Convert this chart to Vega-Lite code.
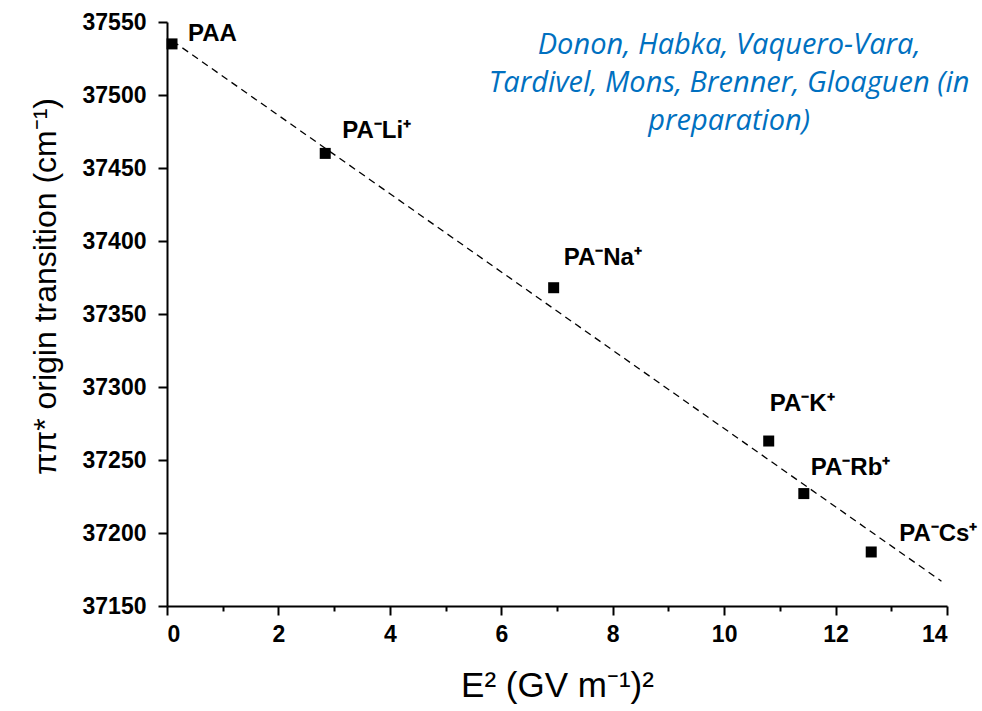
{
  "$schema": "https://vega.github.io/schema/vega-lite/v6.json",
  "width": 780,
  "height": 584,
  "autosize": "none",
  "padding": {"left": 167, "top": 22, "right": 35, "bottom": 105},
  "background": "white",
  "config": {
    "view": {"stroke": null},
    "font": "Liberation Sans",
    "axis": {
      "domainColor": "black", "domainWidth": 2, "tickColor": "black", "tickWidth": 2, "ticks": true,
      "labelFont": "Liberation Sans", "labelFontWeight": "bold", "labelFontSize": 23, "labelColor": "black",
      "titleFont": "Liberation Sans", "titleFontWeight": "normal", "titleColor": "black", "grid": false
    }
  },
  "datasets": {
    "pts": [
      {"E2": 0.09, "nu": 37535, "label": "PAA"},
      {"E2": 2.84, "nu": 37460, "label": "PA⁻Li⁺"},
      {"E2": 6.94, "nu": 37368, "label": "PA⁻Na⁺"},
      {"E2": 10.80, "nu": 37263, "label": "PA⁻K⁺"},
      {"E2": 11.43, "nu": 37227, "label": "PA⁻Rb⁺"},
      {"E2": 12.64, "nu": 37187, "label": "PA⁻Cs⁺"}
    ],
    "fit": [
      {"E2": 0.1, "nu": 37537},
      {"E2": 13.9, "nu": 37167}
    ]
  },
  "layer": [
    {
      "data": {"name": "fit"},
      "mark": {"type": "line", "color": "black", "strokeWidth": 1.3, "strokeDash": [7, 5]},
      "encoding": {
        "x": {"field": "E2", "type": "quantitative", "scale": {"domain": [0, 14], "nice": false},
          "axis": {"orient": "bottom", "values": [0, 1, 2, 3, 4, 5, 6, 7, 8, 9, 10, 11, 12, 13, 14],
            "labelExpr": "datum.value % 2 === 1 ? '' : datum.value",
            "tickSize": {"condition": {"test": "datum.value % 2 === 1", "value": 5}, "value": 9},
            "labelPadding": 8, "title": "E² (GV m⁻¹)²", "titleFontSize": 35, "titlePadding": 22}},
        "y": {"field": "nu", "type": "quantitative", "scale": {"domain": [37150, 37550], "nice": false, "zero": false},
          "axis": {"orient": "left", "values": [37150, 37175, 37200, 37225, 37250, 37275, 37300, 37325, 37350, 37375, 37400, 37425, 37450, 37475, 37500, 37525, 37550],
            "labelExpr": "datum.value % 50 !== 0 ? '' : datum.value",
            "tickSize": {"condition": {"test": "datum.value % 50 !== 0", "value": 5}, "value": 9},
            "labelPadding": 12, "title": "ππ* origin transition (cm⁻¹)", "titleFontSize": 32, "titlePadding": 20, "titleY": 264}}
      }
    },
    {
      "data": {"name": "pts"},
      "mark": {"type": "square", "color": "black", "filled": true, "opacity": 1, "size": 121},
      "encoding": {
        "x": {"field": "E2", "type": "quantitative"},
        "y": {"field": "nu", "type": "quantitative"}
      }
    },
    {
      "data": {"name": "pts"},
      "transform": [{"filter": "datum.label === 'PAA'"}],
      "mark": {"type": "text", "align": "left", "baseline": "middle", "dx": 16, "dy": -10, "fontWeight": "bold", "fontSize": 24, "color": "black"},
      "encoding": {"x": {"field": "E2", "type": "quantitative"}, "y": {"field": "nu", "type": "quantitative"}, "text": {"field": "label"}}
    },
    {
      "data": {"name": "pts"},
      "transform": [{"filter": "datum.label === 'PA⁻Li⁺'"}],
      "mark": {"type": "text", "align": "left", "baseline": "middle", "dx": 17, "dy": -22, "fontWeight": "bold", "fontSize": 24, "color": "black"},
      "encoding": {"x": {"field": "E2", "type": "quantitative"}, "y": {"field": "nu", "type": "quantitative"}, "text": {"field": "label"}}
    },
    {
      "data": {"name": "pts"},
      "transform": [{"filter": "datum.label === 'PA⁻Na⁺'"}],
      "mark": {"type": "text", "align": "left", "baseline": "middle", "dx": 10, "dy": -30, "fontWeight": "bold", "fontSize": 24, "color": "black"},
      "encoding": {"x": {"field": "E2", "type": "quantitative"}, "y": {"field": "nu", "type": "quantitative"}, "text": {"field": "label"}}
    },
    {
      "data": {"name": "pts"},
      "transform": [{"filter": "datum.label === 'PA⁻K⁺'"}],
      "mark": {"type": "text", "align": "left", "baseline": "middle", "dx": 1, "dy": -37, "fontWeight": "bold", "fontSize": 24, "color": "black"},
      "encoding": {"x": {"field": "E2", "type": "quantitative"}, "y": {"field": "nu", "type": "quantitative"}, "text": {"field": "label"}}
    },
    {
      "data": {"name": "pts"},
      "transform": [{"filter": "datum.label === 'PA⁻Rb⁺'"}],
      "mark": {"type": "text", "align": "left", "baseline": "middle", "dx": 7, "dy": -26, "fontWeight": "bold", "fontSize": 24, "color": "black"},
      "encoding": {"x": {"field": "E2", "type": "quantitative"}, "y": {"field": "nu", "type": "quantitative"}, "text": {"field": "label"}}
    },
    {
      "data": {"name": "pts"},
      "transform": [{"filter": "datum.label === 'PA⁻Cs⁺'"}],
      "mark": {"type": "text", "align": "left", "baseline": "middle", "dx": 28, "dy": -18, "fontWeight": "bold", "fontSize": 24, "color": "black"},
      "encoding": {"x": {"field": "E2", "type": "quantitative"}, "y": {"field": "nu", "type": "quantitative"}, "text": {"field": "label"}}
    },
    {
      "data": {"values": [{"note": ["Donon, Habka, Vaquero-Vara,", "Tardivel, Mons, Brenner, Gloaguen (in", "preparation)"]}]},
      "mark": {"type": "text", "align": "center", "baseline": "middle", "font": "Open Sans", "fontStyle": "italic", "fontSize": 29, "color": "#0070C0", "lineHeight": 38},
      "encoding": {
        "x": {"datum": 10.09, "type": "quantitative"},
        "y": {"datum": 37534, "type": "quantitative"},
        "text": {"field": "note"}
      }
    }
  ]
}
